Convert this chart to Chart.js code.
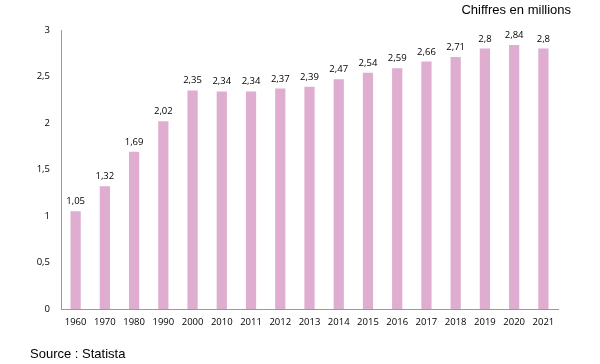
<!DOCTYPE html>
<html lang="fr">
<head>
  <meta charset="UTF-8">
  <title>Chiffres en millions</title>
  <script src="https://cdn.jsdelivr.net/npm/chart.js"></script>
  <style>
    html, body { margin: 0; padding: 0; background: #fff; }
  </style>
</head>
<body>
  <canvas id="graphique" width="600" height="364"></canvas>
  <script>
    // Données
    const annees = ['1960', '1970', '1980', '1990', '2000', '2010', '2011', '2012', '2013',
                    '2014', '2015', '2016', '2017', '2018', '2019', '2020', '2021'];
    const valeurs = [1.05, 1.32, 1.69, 2.02, 2.35, 2.34, 2.34, 2.37, 2.39,
                     2.47, 2.54, 2.59, 2.66, 2.71, 2.8, 2.84, 2.8];
    const titre = 'Chiffres en millions';
    const source = 'Source : Statista';

    const virgule = v => String(v).replace('.', ',');

    // étiquettes de valeurs au-dessus des barres + textes titre/source
    const etiquettes = {
      id: 'etiquettes',
      afterDatasetsDraw(chart) {
        const ctx = chart.ctx;
        const meta = chart.getDatasetMeta(0);
        ctx.save();
        ctx.font = '9.5px "Open Sans"';
        ctx.fillStyle = '#000';
        ctx.textAlign = 'center';
        ctx.textBaseline = 'bottom';
        meta.data.forEach((bar, i) => {
          ctx.fillText(virgule(valeurs[i]), bar.x, bar.y - 5);
        });
        ctx.font = '13px "Liberation Sans"';
        ctx.textAlign = 'right';
        ctx.textBaseline = 'middle';
        ctx.fillText(titre, 571, 10);
        ctx.textAlign = 'left';
        ctx.fillText(source, 30, 354);
        ctx.restore();
      }
    };

    new Chart(document.getElementById('graphique'), {
      type: 'bar',
      data: {
        labels: annees,
        datasets: [{
          data: valeurs,
          backgroundColor: '#dfadcf',
          borderWidth: 0,
          barPercentage: 0.7,
          categoryPercentage: 0.5
        }]
      },
      options: {
        responsive: false,
        animation: false,
        devicePixelRatio: 1,
        layout: { padding: { left: 0, right: 42, top: 30, bottom: 0 } },
        plugins: { legend: { display: false }, tooltip: { enabled: false } },
        scales: {
          x: {
            grid: { display: false, drawTicks: false },
            border: { color: '#9a9a9a', width: 1 },
            ticks: { color: '#000', font: { family: 'Open Sans', size: 9.5 }, padding: 8, maxRotation: 0 },
            afterFit: s => { s.height = 55; }
          },
          y: {
            min: 0,
            max: 3,
            grid: { display: false, drawTicks: false },
            border: { color: '#9a9a9a', width: 1 },
            ticks: {
              stepSize: 0.5,
              color: '#000',
              font: { family: 'Open Sans', size: 9.5 },
              padding: 11,
              callback: v => virgule(v)
            },
            afterFit: s => { s.width = 61; }
          }
        }
      },
      plugins: [etiquettes]
    });
  </script>
</body>
</html>
